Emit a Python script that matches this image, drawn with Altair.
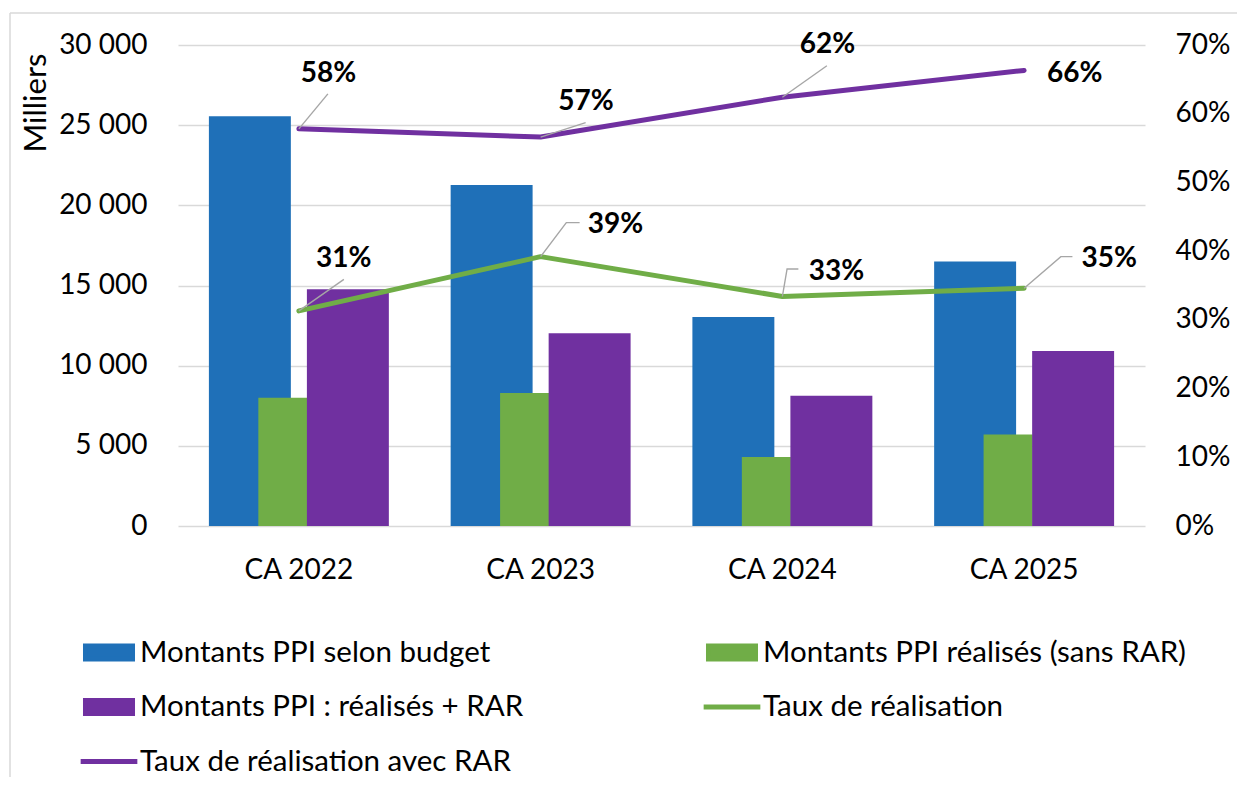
import altair as alt
import pandas as pd

# ---------------- data ----------------
categories = ["CA 2022", "CA 2023", "CA 2024", "CA 2025"]
montants_budget = [25550, 21270, 13040, 16490]
montants_realises = [8000, 8300, 4300, 5700]
montants_realises_rar = [14770, 12020, 8130, 10920]
taux_realisation = [0.313, 0.392, 0.334, 0.346]
taux_realisation_rar = [0.578, 0.566, 0.624, 0.663]

series_bars = [
    "Montants PPI selon budget",
    "Montants PPI réalisés (sans RAR)",
    "Montants PPI : réalisés + RAR",
]
series_lines = ["Taux de réalisation", "Taux de réalisation avec RAR"]
all_series = series_bars + series_lines
left_ticks = [0, 5000, 10000, 15000, 20000, 25000, 30000]
right_ticks = [0, 0.1, 0.2, 0.3, 0.4, 0.5, 0.6, 0.7]

# ---------------- style / layout ----------------
colors = ["#1F70B8", "#70AD47", "#7030A0", "#70AD47", "#7030A0"]
FONT = "Lato"
FS = 28          # axis + data labels
FS_TITLE = 31    # "Milliers"
FS_LEG = 29.5    # legend labels
W, H = 967, 481
BAND = W / len(categories)
PCT_MAX = 0.7
PX = PCT_MAX / H  # one pixel in percentage units (right axis)
GRID = "#d9d9d9"
LEADER = "#a6a6a6"
LINE_W = 5

# bar geometry: (band fraction, pixel offset of centre)
bar_geom = {
    series_bars[0]: (0.339, -49),
    series_bars[1]: (0.203, -16),
    series_bars[2]: (0.339, 49),
}
# label offsets (pixels) from the data point: text centre x, baseline y
label_offsets = {
    series_lines[1]: [(29.5, -46.7), (45.3, -26.8), (45.0, -43.9), (50.6, 11.2)],
    series_lines[0]: [(44.9, -44.2), (74.9, -23.3), (54.0, -16.5), (85.2, -21.6)],
}
# leader line vertices (pixels) from the data point
leader_paths = {
    series_lines[1]: [[(29, -35)], [(45, -14.5)], [(44.5, -31.5)], []],
    series_lines[0]: [[(45, -31.6)], [(25.7, -34), (39, -34)],
                      [(4.7, -27.5), (16, -27.5)], [(36.7, -31.6), (48.3, -31.6)]],
}

# ---------------- tables ----------------
bar_rows = []
for serie, arr in zip(series_bars, [montants_budget, montants_realises, montants_realises_rar]):
    for c, v in zip(categories, arr):
        bar_rows.append({"cat": c, "serie": serie, "value": v})
bars_df = pd.DataFrame(bar_rows)

line_vals = {series_lines[0]: taux_realisation, series_lines[1]: taux_realisation_rar}
line_rows, label_rows, leader_rows = [], [], []
lid = 0
for serie, arr in line_vals.items():
    for i, (c, v) in enumerate(zip(categories, arr)):
        line_rows.append({"cat": c, "serie": serie, "pct": v})
        ox, oy = label_offsets[serie][i]
        label_rows.append({"cat": c, "serie": serie, "pct": v,
                           "dx": BAND / 2 + ox, "ly": v - oy * PX})
        path = leader_paths[serie][i]
        if path:
            pts = [(0, 0)] + path
            for k, (px, py) in enumerate(pts):
                leader_rows.append({"lid": lid, "k": k, "cat": c, "pct": v,
                                    "dx": BAND / 2 + px, "ly": v - py * PX})
            lid += 1
lines_df = pd.DataFrame(line_rows)
labels_df = pd.DataFrame(label_rows)
leaders_df = pd.DataFrame(leader_rows)

# ---------------- shared encodings ----------------
X = alt.X(
    "cat:N", sort=categories, title=None,
    scale=alt.Scale(paddingInner=0, paddingOuter=0),
    axis=alt.Axis(labelAngle=0, labelPadding=30, ticks=False, tickSize=0, domain=False,
                  grid=False, labelFontSize=FS, labelFont=FONT, labelColor="black"),
)

is_line = "slice(datum.value, 0, 4) === 'Taux'"
LEGEND = alt.Legend(
    title=None, orient="none", direction="horizontal", legendX=-97.5, legendY=579,
    columns=2, columnPadding=170, rowPadding=9.5, labelFont=FONT, labelFontSize=FS_LEG,
    labelColor="black", labelOffset=2.5, symbolSize=2704, labelLimit=0, padding=0,
    symbolType={"expr": f"{is_line} ? 'M-1.09,0H1.09' : 'M-0.904,-0.25H0.904V0.25H-0.904Z'"},
    symbolFillColor={"expr": f"{is_line} ? 'transparent' : scale('color', datum.value)"},
    symbolStrokeColor={"expr": "scale('color', datum.value)"},
    symbolStrokeWidth=5,
    symbolOpacity=1,
)
COLOR = alt.Color("serie:N", scale=alt.Scale(domain=all_series, range=colors), legend=LEGEND)

y_left_scale = alt.Scale(domain=[0, 30000], nice=False)
left_axis = alt.Axis(
    values=left_ticks, labelExpr="replace(format(datum.value, ',d'), ',', ' ')",
    title="Milliers", titleAnchor="end", titleX=-133, titleY=8, titleBaseline="alphabetic",
    titleFont=FONT, titleFontSize=FS_TITLE, titleFontWeight="normal", titleColor="black",
    labelFont=FONT, labelFontSize=FS, labelColor="black", labelPadding=31,
    ticks=False, domain=False, grid=True, gridColor=GRID, gridWidth=1.4,
)

bar_layers = []
for serie in series_bars:
    frac, off = bar_geom[serie]
    bar_layers.append(
        alt.Chart(bars_df)
        .transform_filter(alt.datum.serie == serie)
        .mark_bar(width={"band": frac}, xOffset=off)
        .encode(
            x=X,
            y=alt.Y("value:Q", scale=y_left_scale, axis=left_axis, title="Milliers"),
            color=COLOR,
        )
    )
bars_layer = alt.layer(*bar_layers)

y_right_scale = alt.Scale(domain=[0, PCT_MAX], nice=False)
right_axis = alt.Axis(
    orient="right", values=right_ticks, format=".0%", title=None,
    labelFont=FONT, labelFontSize=FS, labelColor="black", labelAlign="left",
    labelPadding=30, ticks=False, domain=False, grid=False,
)

line_layers = []
for serie in series_lines:
    line_layers.append(
        alt.Chart(lines_df)
        .transform_filter(alt.datum.serie == serie)
        .mark_line(strokeWidth=LINE_W, strokeCap="round", strokeJoin="round")
        .encode(
            x=X,
            y=alt.Y("pct:Q", scale=y_right_scale, axis=right_axis, title=None),
            color=COLOR,
        )
    )

leaders = alt.Chart(leaders_df).mark_line(color=LEADER, strokeWidth=1.4).encode(
    x=X,
    y=alt.Y("ly:Q", scale=y_right_scale, axis=right_axis, title=None),
    xOffset=alt.XOffset("dx:Q", scale=None),
    detail="lid:N",
    order="k:Q",
)

labels = alt.Chart(labels_df).mark_text(
    font=FONT, fontSize=FS, fontWeight="bold", color="black",
    align="center", baseline="alphabetic",
).encode(
    x=X,
    y=alt.Y("ly:Q", scale=y_right_scale, axis=right_axis, title=None),
    xOffset=alt.XOffset("dx:Q", scale=None),
    text=alt.Text("pct:Q", format=".0%"),
)

pct_layer = alt.layer(*line_layers, leaders, labels)

frame_df = pd.DataFrame({"k": [0]})
frame_left = alt.Chart(frame_df).mark_rule(color=GRID, strokeWidth=1.5).encode(
    x=alt.value(-168), y=alt.value(-32), y2=alt.value(740)
)
frame_top = alt.Chart(frame_df).mark_rule(color=GRID, strokeWidth=1.5).encode(
    x=alt.value(-168), x2=alt.value(1100), y=alt.value(-32)
)

chart = (
    alt.layer(bars_layer, pct_layer, frame_left, frame_top)
    .resolve_scale(y="independent")
    .properties(
        width=W, height=H,
        padding={"left": 170, "top": 37, "right": 92, "bottom": 251},
        autosize=alt.AutoSizeParams(type="none"),
        background="white",
    )
    .configure_view(stroke=None)
)

chart.save("out.html", embed_options={"renderer": "svg", "actions": False})
